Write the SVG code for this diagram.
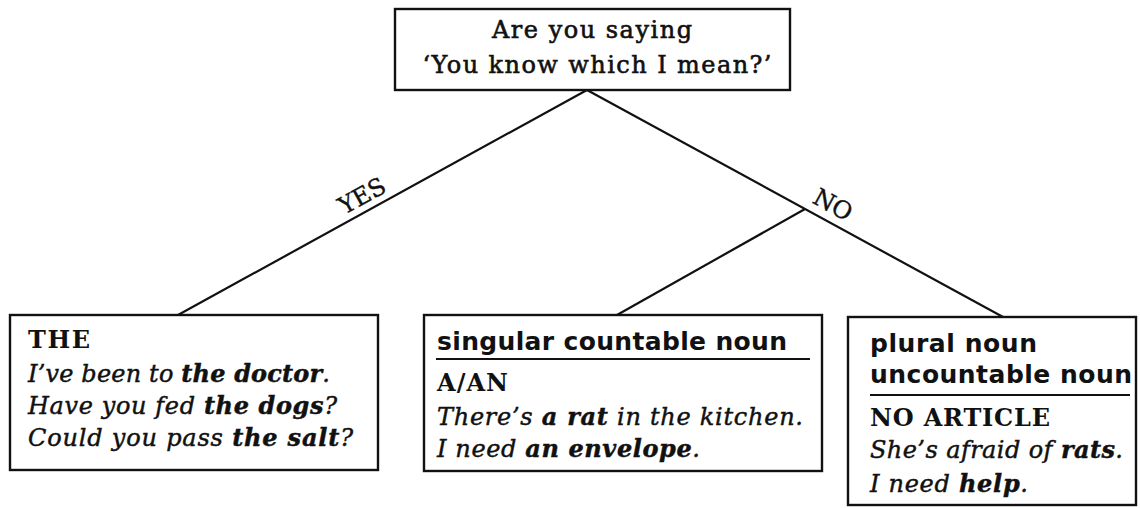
<svg xmlns="http://www.w3.org/2000/svg" width="1140" height="508" viewBox="0 0 1140 508">
<style>
.box{fill:#fff;stroke:#111;stroke-width:2.4}
.sep{stroke:#111;stroke-width:2}
.ln{stroke:#111;stroke-width:2.2;fill:none}
.q{font-family:"DejaVu Serif","Liberation Serif",serif;font-size:24px;fill:#111;stroke:#111;stroke-width:0.6;text-anchor:middle}
.hd{font-family:"DejaVu Serif","Liberation Serif",serif;font-size:24px;font-weight:bold;fill:#111}
.ex{font-family:"DejaVu Serif","Liberation Serif",serif;font-size:24px;font-style:italic;fill:#111;stroke:#111;stroke-width:0.45}
.b{font-weight:bold}
.sn{font-family:"DejaVu Sans","Liberation Sans",sans-serif;font-size:25px;font-weight:bold;fill:#111}
.lb{font-family:"DejaVu Serif","Liberation Serif",serif;font-size:24px;fill:#111;stroke:#111;stroke-width:0.4;text-anchor:middle}
</style>
<rect width="1140" height="508" fill="#fff"/>
<g id="connectors">
<line class="ln" x1="587" y1="90" x2="178" y2="315"/>
<line class="ln" x1="587" y1="90" x2="1003" y2="317"/>
<line class="ln" x1="805" y1="209" x2="617" y2="315"/>
<text class="lb" transform="translate(366,203) rotate(-29)">YES</text>
<text class="lb" transform="translate(829,212) rotate(28.6)">NO</text>
</g>
<g id="question">
<rect class="box" x="395" y="9" width="395" height="81"/>
<text class="q" x="592" y="38" textLength="200">Are you saying</text>
<text class="q" x="597" y="73" textLength="349">‘You know which I mean?’</text>
</g>
<g id="the">
<rect class="box" x="10" y="315" width="368" height="155"/>
<text class="hd" x="28" y="348" textLength="62">THE</text>
<text class="ex" x="28" y="382" textLength="302">I’ve been to <tspan class="b">the doctor</tspan>.</text>
<text class="ex" x="28" y="414" textLength="309">Have you fed <tspan class="b">the dogs</tspan>?</text>
<text class="ex" x="28" y="446" textLength="325">Could you pass <tspan class="b">the salt</tspan>?</text>
</g>
<g id="a-an">
<rect class="box" x="424" y="315" width="398" height="156"/>
<text class="sn" x="437" y="350" textLength="350">singular countable noun</text>
<line class="sep" x1="436" y1="359" x2="810" y2="359"/>
<text class="hd" x="437" y="391" textLength="71">A/AN</text>
<text class="ex" x="437" y="425" textLength="366">There’s <tspan class="b">a rat</tspan> in the kitchen.</text>
<text class="ex" x="437" y="457" textLength="263">I need <tspan class="b">an envelope</tspan>.</text>
</g>
<g id="no-article">
<rect class="box" x="848" y="317" width="288" height="188"/>
<text class="sn" x="870" y="352" textLength="167">plural noun</text>
<text class="sn" x="870" y="383" textLength="262">uncountable noun</text>
<line class="sep" x1="870" y1="395" x2="1130" y2="395"/>
<text class="hd" x="870" y="426" textLength="180">NO ARTICLE</text>
<text class="ex" x="870" y="458" textLength="253">She’s afraid of <tspan class="b">rats</tspan>.</text>
<text class="ex" x="870" y="492" textLength="158">I need <tspan class="b">help</tspan>.</text>
</g>
</svg>
